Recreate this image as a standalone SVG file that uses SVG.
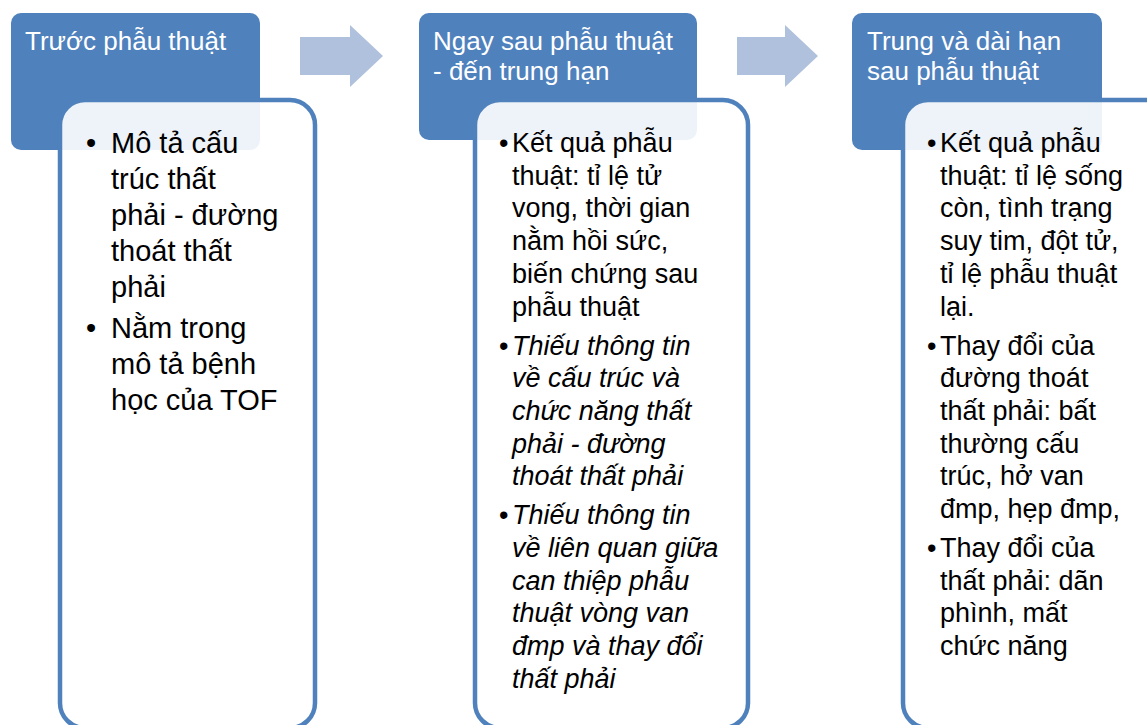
<svg xmlns="http://www.w3.org/2000/svg" width="1147" height="725" viewBox="0 0 1147 725">
<style>
.hdr{fill:#4F81BD}
.card{fill:#FFFFFF;fill-opacity:0.9;stroke:#4F81BD;stroke-width:4.5}
.ht{font-family:"Liberation Sans",Arial,sans-serif;font-size:26px;fill:#FFFFFF}
.b1{font-family:"Liberation Sans",Arial,sans-serif;font-size:29px;fill:#000000}
.b2{font-family:"Liberation Sans",Arial,sans-serif;font-size:27px;fill:#000000}
.it{font-style:italic}
.arrow{fill:#B0C1DD}
</style>
<rect width="1147" height="725" fill="#FFFFFF"/>
<g id="connectors">
<polygon class="arrow" points="300,37 350,37 350,25 383,56 350,87 350,75 300,75"/>
<polygon class="arrow" points="737,37 785,37 785,25 818,56 785,87 785,75 737,75"/>
</g>
<g id="node-1">
<rect class="hdr" x="11" y="13" width="249" height="137" rx="10"/>
<text class="ht" x="25" y="50">Trước phẫu thuật</text>
<rect class="card" x="60" y="100" width="255" height="628" rx="25"/>
<text class="b1"><tspan x="86" y="153">•</tspan><tspan x="86" y="338">•</tspan></text>
<text class="b1">
<tspan x="111" y="153">Mô tả cấu</tspan>
<tspan x="111" y="189">trúc thất</tspan>
<tspan x="111" y="225">phải - đường</tspan>
<tspan x="111" y="261">thoát thất</tspan>
<tspan x="111" y="297">phải</tspan>
<tspan x="111" y="338">Nằm trong</tspan>
<tspan x="111" y="374">mô tả bệnh</tspan>
<tspan x="111" y="410">học của TOF</tspan>
</text>
</g>
<g id="node-2">
<rect class="hdr" x="419" y="13" width="278" height="127" rx="10"/>
<text class="ht"><tspan x="433" y="50">Ngay sau phẫu thuật</tspan><tspan x="433" y="80">- đến trung hạn</tspan></text>
<rect class="card" x="475" y="100" width="273" height="628" rx="25"/>
<text class="b2"><tspan x="499" y="152">•</tspan><tspan x="499" y="354.5">•</tspan><tspan x="499" y="524.3">•</tspan></text>
<text class="b2">
<tspan x="512" y="152">Kết quả phẫu</tspan>
<tspan x="512" y="184.7">thuật: tỉ lệ tử</tspan>
<tspan x="512" y="217.4">vong, thời gian</tspan>
<tspan x="512" y="250.1">nằm hồi sức,</tspan>
<tspan x="512" y="282.8">biến chứng sau</tspan>
<tspan x="512" y="315.5">phẫu thuật</tspan>
</text>
<text class="b2 it">
<tspan x="512" y="354.5">Thiếu thông tin</tspan>
<tspan x="512" y="387.2">về cấu trúc và</tspan>
<tspan x="512" y="419.9">chức năng thất</tspan>
<tspan x="512" y="452.6">phải - đường</tspan>
<tspan x="512" y="485.3">thoát thất phải</tspan>
<tspan x="512" y="524.3">Thiếu thông tin</tspan>
<tspan x="512" y="557">về liên quan giữa</tspan>
<tspan x="512" y="589.7">can thiệp phẫu</tspan>
<tspan x="512" y="622.4">thuật vòng van</tspan>
<tspan x="512" y="655.1">đmp và thay đổi</tspan>
<tspan x="512" y="687.8">thất phải</tspan>
</text>
</g>
<g id="node-3">
<rect class="hdr" x="852" y="13" width="250" height="137" rx="10"/>
<text class="ht"><tspan x="867" y="50">Trung và dài hạn</tspan><tspan x="867" y="80">sau phẫu thuật</tspan></text>
<rect class="card" x="903" y="100" width="270" height="628" rx="25"/>
<text class="b2"><tspan x="927" y="152">•</tspan><tspan x="927" y="354.5">•</tspan><tspan x="927" y="557">•</tspan></text>
<text class="b2">
<tspan x="940" y="152">Kết quả phẫu</tspan>
<tspan x="940" y="184.7">thuật: tỉ lệ sống</tspan>
<tspan x="940" y="217.4">còn, tình trạng</tspan>
<tspan x="940" y="250.1">suy tim, đột tử,</tspan>
<tspan x="940" y="282.8">tỉ lệ phẫu thuật</tspan>
<tspan x="940" y="315.5">lại.</tspan>
<tspan x="940" y="354.5">Thay đổi của</tspan>
<tspan x="940" y="387.2">đường thoát</tspan>
<tspan x="940" y="419.9">thất phải: bất</tspan>
<tspan x="940" y="452.6">thường cấu</tspan>
<tspan x="940" y="485.3">trúc, hở van</tspan>
<tspan x="940" y="518">đmp, hẹp đmp,</tspan>
<tspan x="940" y="557">Thay đổi của</tspan>
<tspan x="940" y="589.7">thất phải: dãn</tspan>
<tspan x="940" y="622.4">phình, mất</tspan>
<tspan x="940" y="655.1">chức năng</tspan>
</text>
</g>
</svg>
